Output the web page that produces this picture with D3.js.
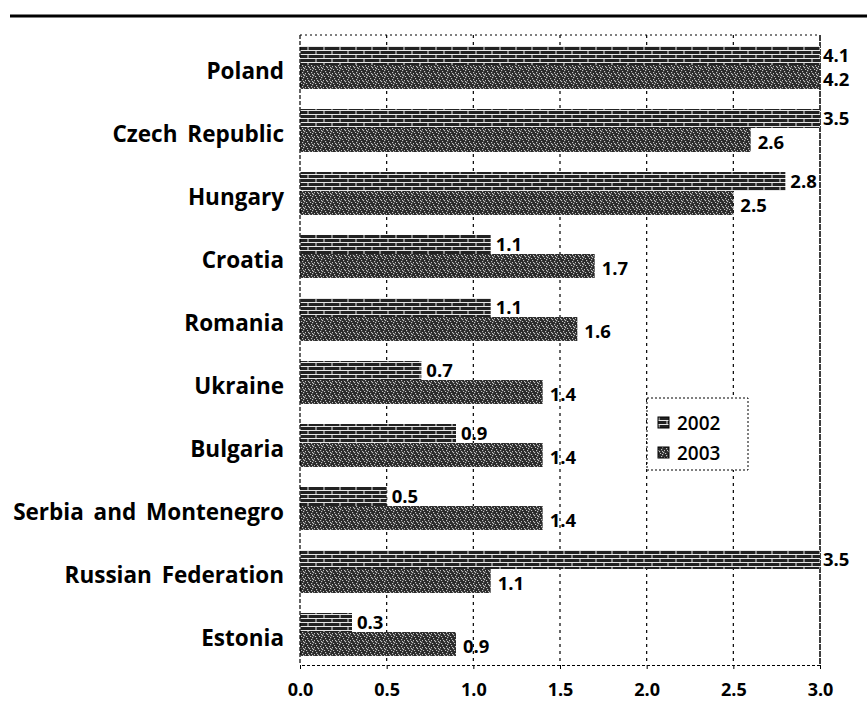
<!DOCTYPE html>
<html><head><meta charset="utf-8">
<script src="https://cdn.jsdelivr.net/npm/d3@7"></script>
<style>
body{margin:0;background:#fff;}
text{font-family:"Open Sans",sans-serif;}
</style></head>
<body><svg id="c" width="867" height="708"></svg>
<script>
const categories = ["Poland","Czech Republic","Hungary","Croatia","Romania","Ukraine","Bulgaria","Serbia and Montenegro","Russian Federation","Estonia"];
const values2002 = [4.1, 3.5, 2.8, 1.1, 1.1, 0.7, 0.9, 0.5, 3.5, 0.3];
const values2003 = [4.2, 2.6, 2.5, 1.7, 1.6, 1.4, 1.4, 1.4, 1.1, 0.9];
const seriesNames = ["2002","2003"];
const xTicks = [0, 0.5, 1.0, 1.5, 2.0, 2.5, 3.0];

(function(){
const svg = d3.select("#c");
const defs = svg.append("defs");
// 2002: brick-like hatch
const p1 = defs.append("pattern").attr("id","p2002").attr("patternUnits","userSpaceOnUse").attr("width",16).attr("height",8);
p1.append("rect").attr("width",16).attr("height",8).attr("fill","#222");
p1.append("path").attr("d","M0,2.5H16M0,6.5H16").attr("stroke","#e8e8e8").attr("stroke-width",1.1);
p1.append("path").attr("d","M4,0V2.5M12,2.5V6.5M4,6.5V8").attr("stroke","#e8e8e8").attr("stroke-width",1);
// 2003: speckled dark
const p2 = defs.append("pattern").attr("id","p2003").attr("patternUnits","userSpaceOnUse").attr("width",9).attr("height",7);
p2.append("rect").attr("width",9).attr("height",7).attr("fill","#2a2a2a");
[[1,1],[5,2],[3,4],[7,5],[0,6],[6,0],[2,3],[8,3],[4,6],[6,4]].forEach(([a,b])=>p2.append("rect").attr("x",a).attr("y",b).attr("width",1.2).attr("height",1.2).attr("fill","#c4c4c4"));

const pl = 300, pr = 820, pt = 35, pb = 665;
const x = d3.scaleLinear().domain([0,3]).range([pl,pr]);
const y = d3.scaleBand().domain(categories).range([pt,pb]);

// top rule
svg.append("line").attr("x1",10).attr("x2",867).attr("y1",16).attr("y2",16).attr("stroke","#000").attr("stroke-width",3);
// top dotted border
svg.append("line").attr("x1",pl).attr("x2",pr).attr("y1",pt).attr("y2",pt).attr("stroke","#000").attr("stroke-width",1).attr("stroke-dasharray","2,3");

// grid
svg.append("g").selectAll("line").data(xTicks.filter(t=>t>0 && t<3)).join("line")
  .attr("x1",d=>x(d)).attr("x2",d=>x(d)).attr("y1",pt).attr("y2",pb)
  .attr("stroke","#000").attr("stroke-width",1.2).attr("stroke-dasharray","3,4");
svg.append("line").attr("x1",x(3)).attr("x2",x(3)).attr("y1",pt).attr("y2",pb).attr("stroke","#000").attr("stroke-width",1.5).attr("stroke-dasharray","6,1");

// bars
const h1 = 19, h2 = 24;
const xc = v => Math.min(v,3);
const g = svg.append("g");
categories.forEach((c,i)=>{
  const cy = y(c) + y.bandwidth()/2;
  const y0 = cy - (h1+h2)/2 + 1;
  g.append("rect").attr("x",x(0)).attr("y",y0).attr("width",x(xc(values2002[i]))-x(0)).attr("height",h1).attr("fill","url(#p2002)");
  g.append("rect").attr("x",x(0)).attr("y",y0+h1).attr("width",x(xc(values2003[i]))-x(0)).attr("height",h2).attr("fill","url(#p2003)");
  g.append("text").attr("x",x(xc(values2002[i]))+ (values2002[i]>=3?3:5)).attr("y",y0+h1/2).attr("dy","0.36em")
    .attr("font-size",18.5).attr("font-weight","bold").text(values2002[i].toFixed(1));
  g.append("text").attr("x",x(xc(values2003[i]))+ (values2003[i]>=3?3:7)).attr("y",y0+h1+h2/2+2).attr("dy","0.36em")
    .attr("font-size",18.5).attr("font-weight","bold").text(values2003[i].toFixed(1));
  svg.append("text").attr("x",284).attr("y",cy+4).attr("dy","0.36em").attr("text-anchor","end")
    .attr("font-size",22.5).attr("font-weight","bold").attr("word-spacing","4").text(c);
});

// left axis
svg.append("line").attr("x1",pl).attr("x2",pl).attr("y1",pt).attr("y2",pb).attr("stroke","#000").attr("stroke-width",1.2).attr("stroke-dasharray","4,2");

// bottom axis
const xa = svg.append("g").attr("transform",`translate(0,${pb})`)
  .call(d3.axisBottom(x).tickValues(xTicks).tickFormat(d3.format(".1f")).tickSize(4).tickPadding(14));
xa.select(".domain").attr("stroke","#000").attr("stroke-dasharray","3,2");
xa.selectAll("text").attr("font-size",18).attr("font-weight","bold").attr("font-family","Open Sans").attr("fill","#000");

// legend
const lg = svg.append("g").attr("transform","translate(647,398)");
lg.append("rect").attr("width",101).attr("height",72).attr("fill","#fff").attr("stroke","#000").attr("stroke-dasharray","2,2");
seriesNames.forEach((s,i)=>{
  lg.append("rect").attr("x",11).attr("y",19+i*30).attr("width",11).attr("height",11).attr("fill",`url(#p${s})`).attr("stroke","#000");
  lg.append("text").attr("x",30).attr("y",25+i*30).attr("dy","0.36em").attr("font-size",19).attr("font-weight",600).text(s);
});
})();
</script></body></html>
